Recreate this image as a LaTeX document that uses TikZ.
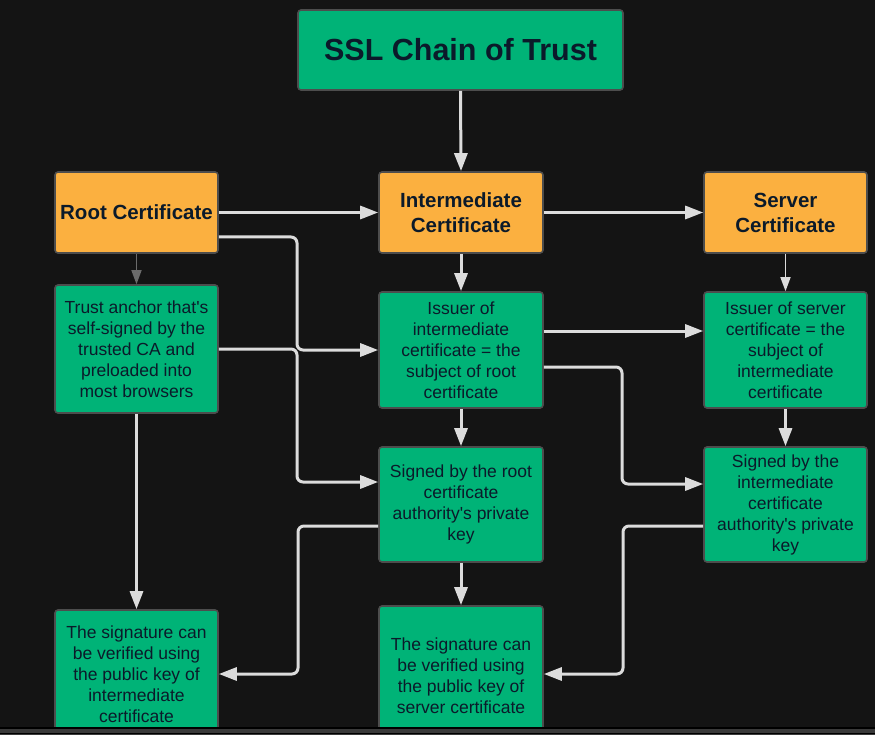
\documentclass[tikz,border=0pt]{standalone}
\usepackage{fontspec}
\setmainfont{Liberation Sans}[Ligatures=TeXOff]
\usetikzlibrary{arrows.meta,calc}
\definecolor{cbg}{HTML}{141414}
\definecolor{cgrn}{HTML}{00B377}
\definecolor{corg}{HTML}{FBB040}
\definecolor{cedge}{HTML}{4D4D4D}
\definecolor{cink}{HTML}{0B1A2A}
\definecolor{carr}{HTML}{DCDCDC}
\definecolor{cdarr}{HTML}{6B6B6B}
\definecolor{cband}{HTML}{3A3A3A}
\begin{document}
\begin{tikzpicture}[x=1pt,y=-1pt,
  box/.style={draw=cedge, line width=1.6pt, rounded corners=3pt, text=cink, align=center, inner sep=0pt},
  gbox/.style={box, fill=cgrn, font=\fontsize{17.5}{21}\selectfont},
  obox/.style={box, fill=corg, font=\bfseries\fontsize{20.5}{25}\selectfont},
  conn/.style={draw=carr, line width=3pt, -{Triangle[length=18pt,width=13pt]}, rounded corners=6pt},
  thinarr/.style={line width=1.6pt, -{Triangle[length=14pt,width=10pt]}},
]
\useasboundingbox (0,0) rectangle (875,735);
\fill[cbg] (0,0) rectangle (875,735);

\begin{scope}
\clip (0,0) rectangle (875,727);
\node[box, fill=cgrn, minimum width=325pt, minimum height=80pt, font=\bfseries\fontsize{30.5}{36}\selectfont] (title) at (460.5,50) {SSL Chain of Trust};

\node[obox, minimum width=163pt, minimum height=81pt] (root) at (136.5,212.5) {Root Certificate};
\node[obox, minimum width=164pt, minimum height=81pt] (inter) at (461,212.5) {Intermediate\\Certificate};
\node[obox, minimum width=163pt, minimum height=81pt] (server) at (785.5,212.5) {Server\\Certificate};

\node[gbox, minimum width=163pt, minimum height=128pt] (trust) at (136.5,349) {Trust anchor that's\\self-signed by the\\trusted CA and\\preloaded into\\most browsers};
\node[gbox, minimum width=164pt, minimum height=116pt] (issI) at (461,350) {Issuer of\\intermediate\\certificate = the\\subject of root\\certificate};
\node[gbox, minimum width=163pt, minimum height=116pt] (issS) at (785.5,350) {Issuer of server\\certificate = the\\subject of\\intermediate\\certificate};

\node[gbox, minimum width=164pt, minimum height=115pt] (sigR) at (461,504.5) {Signed by the root\\certificate\\authority's private\\key};
\node[gbox, minimum width=163pt, minimum height=115pt] (sigI) at (785.5,504.5) {Signed by the\\intermediate\\certificate\\authority's private\\key};

\node[gbox, minimum width=163pt, minimum height=128pt] (verL) at (136.5,674) {The signature can\\be verified using\\the public key of\\intermediate\\certificate};
\node[gbox, minimum width=164pt, minimum height=140pt] (verM) at (461,676) {The signature can\\be verified using\\the public key of\\server certificate};
\end{scope}

\coordinate (jA) at (297,0);
\coordinate (jB) at (622,0);
\coordinate (jC) at (298,0);
\coordinate (jD) at (623,0);
\coordinate (rootLow) at ([yshift=-24.5pt]root.east);
\coordinate (sigRin) at ([yshift=22.5pt]sigR.west);
\coordinate (issIup) at ([yshift=19pt]issI.east);
\coordinate (issSin) at ([yshift=19pt]issS.west);
\coordinate (issIlow) at ([yshift=-17pt]issI.east);
\coordinate (sigIin) at ([yshift=20.5pt]sigI.west);
\coordinate (sigRout) at ([yshift=-21.5pt]sigR.west);
\coordinate (sigIout) at ([yshift=-21.5pt]sigI.west);
\coordinate (verMin) at ([yshift=2pt]verM.east);

% straight connectors
\draw[conn] (title.south) -- (inter.north);
\draw[conn] (root.east) -- (inter.west);
\draw[conn] (inter.east) -- (server.west);
\draw[conn, thinarr, draw=cdarr] (root.south) -- (trust.north);
\draw[conn] (inter.south) -- (issI.north);
\draw[conn, thinarr] (server.south) -- (issS.north);
\draw[conn] (issI.south) -- (sigR.north);
\draw[conn] (issS.south) -- (sigI.north);
\draw[conn] (trust.south) -- (verL.north);
\draw[conn] (sigR.south) -- (verM.north);
\draw[conn] (issIup) -- (issSin);

% elbow connectors
\draw[conn] (rootLow) -- (jA |- rootLow) -- (jA |- issI.west) -- (issI.west);
\draw[conn] (trust.east) -- (jA |- trust.east) -- (jA |- sigRin) -- (sigRin);
\draw[conn] (issIlow) -- (jB |- issIlow) -- (jB |- sigIin) -- (sigIin);
\draw[conn] (sigRout) -- (jC |- sigRout) -- (jC |- verL.east) -- (verL.east);
\draw[conn] (sigIout) -- (jD |- sigIout) -- (jD |- verMin) -- (verMin);

% bottom band
\fill[black] (0,727) rectangle (875,729);
\fill[cband] (0,729) rectangle (875,733);
\fill[black] (0,733) rectangle (875,734);
\fill[cband] (0,734) rectangle (875,735);
\end{tikzpicture}
\end{document}
